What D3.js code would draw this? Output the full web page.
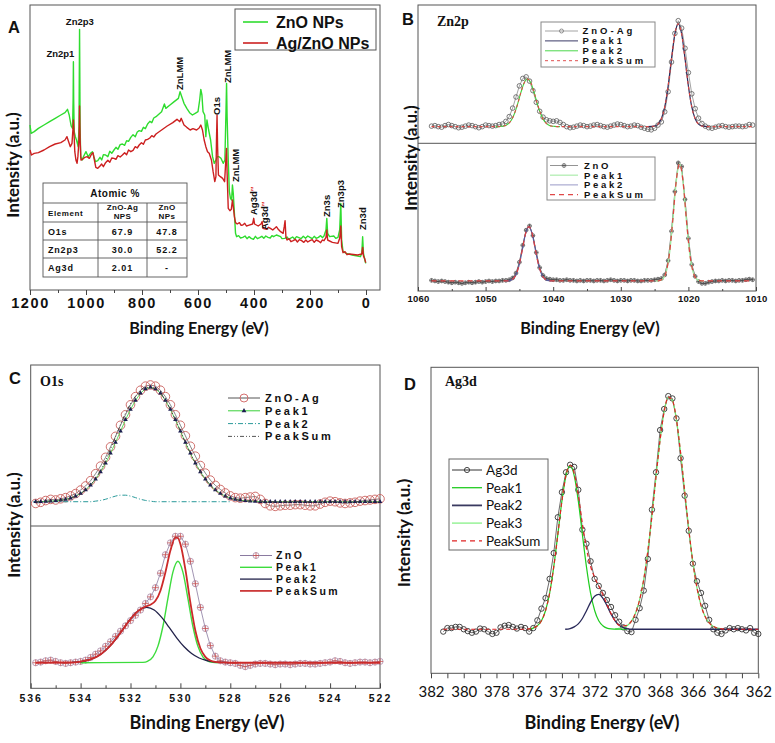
<!DOCTYPE html>
<html>
<head>
<meta charset="utf-8">
<script src="https://cdn.jsdelivr.net/npm/d3@7"></script>
<style>
body { margin: 0; background: #fff; }
svg { display: block; }
</style>
</head>
<body>
<div id="chart"></div>
<script>
// ---------------- data ----------------

// A: survey spectra, [binding energy, intensity]
var surveyZnO = [
  [1200,49.5],[1196,47],[1185,47.5],[1170,48.5],[1150,49.5],[1130,50.5],[1110,51.5],[1090,52.5],[1075,53.2],[1066,54.2],
  [1060,52.5],[1053,49.2],[1048,48.5],[1046,57],[1045,68.5],[1044,57],[1042,47.5],[1038,46],[1034,45],[1028,43],
  [1025,49],[1023,78.2],[1021,49],[1019,40],[1014,39],[1008,40.2],[1000,41.5],[992,40],[984,41],[977,41.5],
  [972,40],[966,38.5],[958,38.8],[950,39.8],[944,39.0],[938,40.6],[930,40.5],[922,40.0],[915,41.6],[908,41.0],
  [900,42],[893,42.8],[886,42.2],[878,43.6],[870,43.8],[862,43.4],[855,44.8],[848,44.6],[840,45.8],[832,46.6],
  [824,46.0],[817,47.4],[810,47.8],[802,47.6],[795,48.8],[788,48.4],[780,49.8],[772,50.6],[765,50.2],[758,51.6],
  [750,52],[730,53.5],[720,55.8],[715,54.5],[700,55.5],[685,56.5],[670,57.5],[664,59.5],[658,58],[650,56],
  [640,54.5],[630,53.2],[620,52.5],[610,53],[600,53.5],[594,57],[590,60.2],[586,58.5],[582,53.5],[576,52.5],
  [572,46],[568,51],[562,48],[555,45],[548,40],[542,38],[536,39],[532,40],[525,40],[518,39.5],
  [510,38],[504,39],[500,54],[498,62],[496,52],[492,39],[488,29.5],[484,27.5],[480,27],[477,31.5],
  [474,29],[470,23],[466,17],[462,16],[455,16.3],[448,15.6],[440,15.8],[432,16.2],[425,15.4],[418,16.0],
  [410,15.5],[402,15.2],[395,16.1],[388,15.4],[380,15.7],[372,16.1],[365,15.5],[358,16.2],[350,15.8],[342,15.6],
  [336,16.3],[330,16],[320,16.5],[305,16],[300,15.4],[290,15.5],[282,15.9],[276,15.2],[270,15.5],[262,15.9],
  [255,15.3],[248,16.0],[240,15.7],[232,15.4],[224,16.1],[216,15.5],[208,16.2],[200,15.8],[192,15.4],[185,16.1],
  [178,15.5],[170,15.8],[162,16.3],[156,15.7],[150,16.2],[143,18],[140,21.5],[137,17],[130,16],[115,16.2],
  [108,15.5],[100,15.8],[94,18],[90,26],[87,15],[82,11.5],[70,11],[50,10.5],[30,10.2],[20,10],
  [15,11],[12,16],[9,11],[4,9],[1,8]
];
var surveyAgZnO = [
  [1200,42],[1195,40.5],[1185,41],[1170,41.2],[1150,42],[1130,43],[1110,43.8],[1090,44.2],[1075,45],[1068,46],
  [1062,44.5],[1056,43],[1050,44],[1046,49],[1045,51],[1043,47.5],[1040,41.5],[1036,39],[1032,38],[1029,40],
  [1025,45],[1023,55.2],[1021,45],[1018,39],[1012,39.2],[1004,39.8],[996,40],[988,39.5],[980,40.8],[975,41.2],
  [970,39],[965,36.8],[958,36.5],[950,37.2],[944,37.8],[938,37.0],[930,38.2],[922,38.9],[915,38.3],[908,39.6],
  [900,39.5],[893,39.2],[886,40.3],[878,39.9],[870,40.5],[862,41.2],[855,40.6],[848,42.0],[840,41.5],[832,41.9],
  [824,43.0],[817,42.6],[810,43.5],[802,44.2],[795,43.7],[788,45.0],[780,45.2],[772,45.6],[765,46.3],[758,45.9],
  [750,46.8],[730,48],[710,49.2],[690,50.2],[675,51.2],[665,50.5],[660,51.5],[650,49.5],[640,48.8],[628,48],
  [618,48.4],[605,48],[596,48.6],[590,49.5],[584,48],[578,45],[572,43],[566,41.5],[560,41],[552,39],
  [546,35.5],[540,32.5],[536,34],[534,45],[532,52.5],[530,43],[527,34.5],[520,34],[512,33.5],[505,32.5],
  [500,40],[498,42.5],[496,35],[492,24.5],[486,23.8],[481,24.2],[477,27],[474,25],[470,22],[466,20.2],
  [460,19.8],[452,20.2],[446,19.4],[440,19.5],[433,20.0],[427,19.2],[420,19.4],[405,19.8],[401,21.5],[398,19.8],
  [385,19.2],[375,19.8],[371,20.5],[368,18.5],[355,18.2],[348,18.8],[340,18.4],[333,18.0],[325,18.6],[320,19.0],
  [315,18.4],[305,17.5],[296,17],[292,19],[289,20.8],[286,16],[282,15],[275,15.4],[268,14.5],[260,14.8],
  [252,15.2],[245,14.4],[238,15.1],[230,14.8],[222,14.3],[215,15.0],[208,14.4],[200,14.8],[192,15.1],[185,14.3],
  [178,15.0],[170,14.7],[162,14.2],[156,15.0],[150,14.8],[143,15.8],[140,18],[137,15],[120,14.3],[100,14],
  [94,15.5],[90,19.2],[87,13],[82,11.2],[75,11.5],[68,10.6],[60,10.8],[30,10.5],[15,10.8],[12,12.8],
  [9,10.2],[4,9.2],[1,8.2]
];
var surveyTicks = [1200, 1000, 800, 600, 400, 200, 0];
var surveyMinor = [1100, 900, 700, 500, 300, 100];
var surveySeries = ["ZnO NPs", "Ag/ZnO NPs"];
var tableHead = [["Element"], ["ZnO-Ag", "NPS"], ["ZnO", "NPs"]];
var tableRows = [["O1s", "67.9", "47.8"], ["Zn2p3", "30.0", "52.2"], ["Ag3d", "2.01", "-"]];

// B: Zn2p, sampled every 0.5 eV from 1058 eV down
var zn2pStart = 1058, zn2pStep = 0.5;
var zn2pAg = [
  0.5, 1.0, 0.0, -0.5, 1.0, 2.0, 1.0, 0.0, -1.0, -0.5,
  0.5, 1.5, 1.0, 0.0, -1.0, 0.0, 1.5, 1.0, 0.5, 1.0,
  2.0, 2.5, 5.0, 9.5, 17.5, 28.0, 38.5, 45.5, 47.0, 43.0,
  34.0, 23.0, 14.5, 9.0, 6.5, 5.5, 5.0, 5.5, 4.0, 2.0,
  0.0, -1.0, -0.5, 0.5, 1.5, 1.0, 0.0, 0.5, 1.5, 2.0,
  1.0, 0.0, -0.5, 0.5, 1.5, 2.5, 2.0, 1.0, 0.0, 0.5,
  1.5, 1.0, -0.5, -1.5, -2.5, -3.0, -1.5, 1.5, 4.5, 14.0,
  33.0, 61.0, 88.0, 100, 93.0, 74.0, 51.0, 31.0, 17.0, 8.0,
  3.0, 0.5, -1.0, -1.5, -0.5, 0.5, 1.0, 0.0, -0.5, 0.0,
  0.5, 0.5, 0.0, 0.5, 2.0, 1.5
];
var zn2pZnO = [
  0.5, 0.0, -0.5, 0.0, -0.5, -1.0, -1.5, -1.0, -1.5, -2.0,
  -1.5, -1.0, -1.5, -1.0, -0.5, -1.0, -0.5, 0.0, -0.5, 0.0,
  0.0, 0.5, 0.5, 1.0, 2.5, 6.5, 15.5, 29.5, 42.0, 45.5,
  37.5, 23.5, 11.0, 4.5, 2.0, 1.5, 1.0, 1.0, 0.5, 0.5,
  1.0, 0.5, 0.5, 0.0, 0.5, 0.0, 0.5, 0.5, 0.0, 0.5,
  0.5, 0.0, 0.5, 1.0, 0.5, 0.0, 0.5, 0.5, 0.0, 0.5,
  0.5, 0.0, 0.0, 0.5, 0.5, 0.5, 1.0, 1.5, 2.0, 5.0,
  16.8, 41.1, 73.9, 97.6, 94.6, 67.4, 35.2, 13.5, 3.8, -0.5,
  -2.0, -2.0, -1.0, -0.5, 0.0, 0.0, 0.5, 0.0, 0.5, 0.5,
  0.0, 0.5, 0.5, 1.0, 1.5, 1.0
];
var zn2pAgPeak1 = [[1026,0],[1025,0.6],[1024.5,2.4],[1024,7.4],[1023.5,18.6],[1023,38.3],[1022.5,64.2],[1022,87.5],[1021.5,97],
  [1021,87.5],[1020.5,64.2],[1020,38.3],[1019.5,18.6],[1019,7.4],[1018.5,2.4],[1018,0.6],[1017,0]];
var zn2pAgPeak2 = [[1048.5,0],[1047.8,0.3],[1047.3,0.6],[1046.8,2.0],[1046.3,5.1],[1045.8,11.2],[1045.3,20.6],[1044.8,31.8],[1044.3,41.3],
  [1043.8,45],[1043.3,41.3],[1042.8,31.8],[1042.3,20.6],[1041.8,11.2],[1041.3,5.1],[1040.8,2.0],[1040.3,0.6],[1039.8,0.3],[1039,0]];
var zn2pAgSum = [[1058,0],[1048.5,0],[1047.8,0.3],[1047.3,0.6],[1046.8,2.0],[1046.3,5.1],[1045.8,11.2],[1045.3,20.6],[1044.8,31.8],[1044.3,41.3],
  [1043.8,45],[1043.3,41.3],[1042.8,31.8],[1042.3,20.6],[1041.8,11.2],[1041.3,5.1],[1040.8,2.0],[1040.3,0.6],[1039.8,0.3],[1039,0],
  [1026,0],[1025,0.6],[1024.5,2.4],[1024,7.4],[1023.5,18.6],[1023,38.3],[1022.5,64.2],[1022,87.5],[1021.5,97],
  [1021,87.5],[1020.5,64.2],[1020,38.3],[1019.5,18.6],[1019,7.4],[1018.5,2.4],[1018,0.6],[1017,0],[1010.5,0]];
var zn2pZnOPeak1 = [[1024.8,0],[1024.3,0.3],[1023.8,1.7],[1023.3,7.3],[1022.8,22.7],[1022.3,50.8],[1021.8,82.6],[1021.3,97],
  [1020.8,82.6],[1020.3,50.8],[1019.8,22.7],[1019.3,7.3],[1018.8,1.7],[1018.3,0.3],[1017.8,0]];
var zn2pZnOPeak2 = [[1047.1,0],[1046.6,0.2],[1046.1,1.1],[1045.6,4.2],[1045.1,11.9],[1044.6,24.9],[1044.1,38.8],[1043.6,45],
  [1043.1,38.8],[1042.6,24.9],[1042.1,11.9],[1041.6,4.2],[1041.1,1.1],[1040.6,0.2],[1040.1,0]];
var zn2pZnOSum = [[1058,0],[1047.1,0],[1046.6,0.2],[1046.1,1.1],[1045.6,4.2],[1045.1,11.9],[1044.6,24.9],[1044.1,38.8],[1043.6,45],
  [1043.1,38.8],[1042.6,24.9],[1042.1,11.9],[1041.6,4.2],[1041.1,1.1],[1040.6,0.2],[1040.1,0],
  [1024.8,0],[1024.3,0.3],[1023.8,1.7],[1023.3,7.3],[1022.8,22.7],[1022.3,50.8],[1021.8,82.6],[1021.3,97],
  [1020.8,82.6],[1020.3,50.8],[1019.8,22.7],[1019.3,7.3],[1018.8,1.7],[1018.3,0.3],[1017.8,0],[1010.5,0]];
var zn2pTicks = [1060, 1050, 1040, 1030, 1020, 1010];
var zn2pMinor = [1055, 1045, 1035, 1025, 1015];
var zn2pAgLegend = ["ZnO-Ag", "Peak1", "Peak2", "PeakSum"];
var zn2pZnOLegend = ["ZnO", "Peak1", "Peak2", "PeakSum"];

// C: O1s, sampled every 0.2 eV from 535.8 eV down
var o1sStart = 535.8, o1sStep = 0.2;
var o1sAg = [
  -1.5, -0.5, 1.0, 2.0, 1.5, 2.5, 3.5, 5.0, 7.0, 10.0,
  13.5, 18.0, 24.0, 30.5, 38.0, 47.0, 56.0, 65.5, 74.5, 83.0,
  90.0, 95.5, 99.0, 100, 99.0, 95.5, 90.0, 83.0, 74.5, 65.5,
  56.5, 47.5, 39.0, 31.0, 24.5, 18.5, 14.0, 10.5, 7.5, 5.0,
  3.5, 3.0, 3.5, 4.0, 4.5, 2.0, -1.5, -3.5, -4.0, -3.5,
  -3.0, -3.0, -2.5, -2.5, -3.0, -3.5, -3.5, -2.0, -0.5, 0.5,
  0.0, -1.0, -1.5, -1.0, -0.5, 0.5, 1.0, 1.5, 2.0, 2.5
];
var o1sAgPeak1 = [
  0, 0.1, 0.3, 0.5, 0.8, 1.3, 2.0, 3.1, 4.8, 7.0,
  10.1, 14.2, 19.3, 25.6, 33.0, 41.5, 50.8, 60.4, 70.2, 79.0,
  86.8, 92.9, 96.7, 98.0, 96.7, 92.9, 86.8, 79.0, 70.2, 60.4,
  50.8, 41.5, 33.0, 25.6, 19.3, 14.2, 10.1, 7.0, 4.8, 3.1,
  2.0, 1.3, 0.8, 0.5, 0.3, 0.1, 0, 0, 0, 0,
  0, 0, 0, 0, 0, 0, 0, 0, 0, 0,
  0, 0, 0, 0, 0, 0, 0, 0, 0, 0
];
var o1sAgPeak2 = [[535.9,0],[533.6,0],[533.4,0.5],[533.2,1.1],[533.0,2.1],[532.8,3.5],[532.6,4.8],[532.4,5.6],[532.2,5.6],
  [532.0,4.8],[531.8,3.5],[531.6,2.1],[531.4,1.1],[531.2,0.5],[531.0,0],[528.0,0]];
var o1sAgSum = [[535.8,0],[535.4,0.3],[535.0,0.8],[534.6,2.0],[534.2,4.8],[533.8,10.1],[533.4,19.8],[533.0,35.1],[532.6,55.6],
  [532.2,75.8],[531.8,90.3],[531.4,97.8],[531.0,96.9],[530.6,86.8],[530.2,70.2],[529.8,50.8],[529.4,33.0],[529.0,19.3],
  [528.6,10.1],[528.2,4.8],[527.8,2.0],[527.4,0.8],[527.0,0.3],[526.6,0],[522.0,0]];
var o1sZnO = [
  0.0, 0.5, 1.5, 2.0, 1.0, 0.0, -0.5, 0.0, 0.5, 1.0,
  2.0, 4.0, 6.5, 9.0, 12.5, 16.0, 20.0, 24.0, 28.0, 32.0,
  36.0, 40.0, 45.0, 50.0, 57.0, 68.0, 82.0, 91.0, 96.0, 96.0,
  90.0, 77.0, 60.0, 42.0, 26.0, 13.0, 5.0, 1.5, 0.5, 0.0,
  -0.5, -2.0, -3.0, -2.0, -1.0, -0.5, -0.5, -1.0, -1.5, -1.0,
  -1.0, -1.5, -1.0, -0.5, -0.5, -1.0, -1.0, -0.5, 0.0, 0.5,
  1.5, 1.0, 0.0, -0.5, 0.0, 0.5, 0.5, 0.0, 0.5, 1.0
];
var o1sZnOPeak1 = [[534.0,0],[531.5,0.3],[531.3,1.3],[531.1,4.5],[530.9,12.6],[530.7,27.7],[530.5,48.9],[530.3,68.8],[530.1,77],
  [529.9,68.8],[529.7,48.9],[529.5,27.7],[529.3,12.6],[529.1,4.5],[528.9,1.3],[528.7,0.3],[528.5,0]];
var o1sZnOPeak2 = [[534.35,0.3],[534.05,0.7],[533.75,1.7],[533.45,3.6],[533.15,7.0],[532.85,12.1],[532.55,18.9],[532.25,26.8],
  [531.95,34.4],[531.65,40.0],[531.35,42],[531.05,40.0],[530.75,34.4],[530.45,26.8],[530.15,18.9],[529.85,12.1],
  [529.55,7.0],[529.25,3.6],[528.95,1.7],[528.65,0.7],[528.35,0.3],[528.05,0]];
var o1sZnOSum = [[535.8,0],[534.4,0.2],[534.0,0.9],[533.6,2.5],[533.2,6.3],[532.8,13.1],[532.4,22.8],[532.0,33.2],[531.8,37.5],
  [531.6,40.6],[531.4,42.6],[531.2,44.0],[531.0,47.0],[530.8,54.7],[530.6,68.7],[530.4,85.2],[530.2,95.0],[530.1,94.7],
  [530.0,90.1],[529.8,70.8],[529.6,45.6],[529.4,24.3],[529.2,11.0],[529.0,4.5],[528.8,1.7],[528.6,0.6],[528.4,0.3],
  [528.0,0],[522.0,0]];
var o1sTicks = [536, 534, 532, 530, 528, 526, 524, 522];
var o1sMinor = [535, 533, 531, 529, 527, 525, 523];
var o1sAgLegend = ["ZnO-Ag", "Peak1", "Peak2", "PeakSum"];
var o1sZnOLegend = ["ZnO", "Peak1", "Peak2", "PeakSum"];

// D: Ag3d, sampled every 0.25 eV from 381.25 eV down
var ag3dStart = 381.25, ag3dStep = 0.25;
var ag3d = [
  -1.0, 0.5, 0.5, 1.0, 1.0, 0.0, -0.8, -1.5,
  -1.0, 0.3, 0.0, -1.0, -2.0, -1.5, 0.8, 1.5,
  1.8, 1.0, 0.3, 1.0, 0.5, -1.0, 0.5, 3.8,
  8.8, 13.3, 21.5, 32.5, 47.8, 58.5, 67.0, 70.2,
  69.3, 59.5, 42.5, 36.5, 29.0, 21.5, 18.5, 15.5,
  12.5, 9.5, 6.0, 3.2, 0.8, -0.8, -1.2, 4.0,
  9.0, 16.5, 30.0, 51.0, 67.0, 85.0, 94.0, 99.5,
  98.5, 90.0, 73.0, 57.0, 42.0, 28.0, 20.5, 15.5,
  10.0, 4.0, 0.0, -1.5, -2.0, -0.5, 0.5, 0.0,
  0.5, 0.0, -0.5, 0.5, -1.5, -2.0
];
var ag3dPeak1 = [[376.0,0],[375.75,0.5],[375.5,1.5],[375.25,3.6],[375.0,8.0],[374.75,15.4],[374.5,26.6],[374.25,40.5],[374.0,54.8],
  [373.75,65.6],[373.5,69.7],[373.25,65.6],[373.0,54.8],[372.75,40.5],[372.5,26.6],[372.25,15.4],[372.0,8.0],[371.75,3.6],
  [371.5,1.5],[371.25,0.5],[371.0,0.2],[370.0,0]];
var ag3dPeak2 = [[373.8,0],[373.5,0.3],[373.25,1.0],[373.0,2.3],[372.75,4.6],[372.5,7.9],[372.25,11.5],[372.0,14.1],[371.75,14.9],
  [371.5,13.3],[371.25,10.1],[371.0,6.5],[370.75,3.6],[370.5,1.7],[370.25,0.7],[370.0,0.2],[369.75,0],[362.0,0]];
var ag3dPeak3 = [[370.75,0.2],[370.5,0.4],[370.25,0.7],[370.0,1.6],[369.75,3.5],[369.5,6.9],[369.25,12.6],[369.0,21.3],[368.75,33.4],
  [368.5,48.4],[368.25,65.1],[368.0,80.8],[367.75,93.0],[367.5,99.1],[367.25,97.7],[367.0,89.3],[366.75,75.4],[366.5,59.0],
  [366.25,42.8],[366.0,28.7],[365.75,17.8],[365.5,10.2],[365.25,5.4],[365.0,2.7],[364.75,1.2],[364.5,0.5],[364.25,0.2]];
var ag3dSum = [[381.25,0],[376.25,0],[376.0,0.2],[375.75,0.5],[375.5,1.5],[375.25,3.6],[375.0,8.0],[374.75,15.4],[374.5,26.6],
  [374.25,40.5],[374.0,54.8],[373.75,65.7],[373.5,70.0],[373.25,66.6],[373.0,57.1],[372.75,45.1],[372.5,34.5],[372.25,26.9],
  [372.0,22.1],[371.75,18.5],[371.5,14.8],[371.25,10.6],[371.0,6.7],[370.75,3.6],[370.5,1.7],[370.25,1.4],[370.0,1.8],
  [369.75,3.5],[369.5,6.9],[369.25,12.6],[369.0,21.3],[368.75,33.4],[368.5,48.4],[368.25,65.1],[368.0,80.8],[367.75,93.0],
  [367.5,99.1],[367.25,97.7],[367.0,89.3],[366.75,75.4],[366.5,59.0],[366.25,42.8],[366.0,28.7],[365.75,17.8],[365.5,10.2],
  [365.25,5.4],[365.0,2.7],[364.75,1.2],[364.5,0.5],[364.25,0.2],[364.0,0],[362.0,0]];
var ag3dTicks = [382, 380, 378, 376, 374, 372, 370, 368, 366, 364, 362];
var ag3dMinor = [381, 379, 377, 375, 373, 371, 369, 367, 365, 363];
var ag3dLegend = ["Ag3d", "Peak1", "Peak2", "Peak3", "PeakSum"];

// ---------------- drawing ----------------
var sans = "'Liberation Sans', Arial, sans-serif";
var serif = "'Liberation Serif', 'Times New Roman', serif";
var calib = "Lato, 'Open Sans', sans-serif";

var svg = d3.select("#chart")
    .append("svg")
    .attr("width", 775)
    .attr("height", 743);

svg.append("rect").attr("width", 775).attr("height", 743).attr("fill", "#fff");

function frame(x0, y0, x1, y1) {
  svg.append("rect")
      .attr("x", x0).attr("y", y0)
      .attr("width", x1 - x0).attr("height", y1 - y0)
      .attr("fill", "none")
      .attr("stroke", "#555")
      .attr("stroke-width", 1);
}

function txt(s, x, y, size, opt) {
  opt = opt || {};
  return svg.append("text")
      .attr("x", x).attr("y", y)
      .attr("text-anchor", opt.anchor || "start")
      .style("font-family", opt.family || sans)
      .style("font-size", size + "px")
      .style("font-weight", opt.weight || "bold")
      .style("letter-spacing", (opt.ls || 0) + "px")
      .attr("fill", opt.fill || "#111")
      .text(s);
}

function vtxt(s, x, y, size, opt) {
  opt = opt || {};
  return svg.append("text")
      .attr("transform", "translate(" + x + "," + y + ") rotate(-90)")
      .attr("text-anchor", opt.anchor || "start")
      .style("font-family", opt.family || sans)
      .style("font-size", size + "px")
      .style("font-weight", opt.weight || "bold")
      .attr("fill", "#111")
      .text(s);
}

function bottomAxis(x, y0, major, minor, o) {
  var gm = svg.append("g")
      .attr("transform", "translate(0," + y0 + ")")
      .call(d3.axisBottom(x).tickValues(minor).tickSize(o.minor).tickFormat(""));
  gm.select(".domain").remove();
  gm.selectAll("line").attr("stroke", "#444");
  var g = svg.append("g")
      .attr("transform", "translate(0," + y0 + ")")
      .call(d3.axisBottom(x).tickValues(major).tickSize(o.major).tickPadding(o.pad).tickFormat(d3.format("d")));
  g.select(".domain").remove();
  g.selectAll("line").attr("stroke", "#444");
  g.selectAll("text")
      .attr("fill", "#111")
      .style("font-family", o.family)
      .style("font-size", o.fs + "px")
      .style("font-weight", o.weight)
      .style("letter-spacing", o.ls + "px");
}

// line through evenly sampled values
function gridPath(vals, start, step, x, y) {
  return d3.line()
      .x(function(d, i) { return x(start - i * step); })
      .y(function(d) { return y(d); })(vals);
}
// smooth line through [energy, value] pairs
function pairPath(pts, x, y) {
  return d3.line()
      .x(function(d) { return x(d[0]); })
      .y(function(d) { return y(d[1]); })
      .curve(d3.curveMonotoneX)(pts);
}
function stroke(d, color, w, dash) {
  return svg.append("path")
      .attr("d", d)
      .attr("fill", "none")
      .attr("stroke", color)
      .attr("stroke-width", w)
      .attr("stroke-dasharray", dash || null)
      .attr("stroke-linejoin", "round");
}

// markers
function ringMark(g, r, color, w) {
  g.append("circle").attr("r", r).attr("fill", "none").attr("stroke", color).attr("stroke-width", w);
}
function crossMark(g, r, ring, cross) {
  g.append("circle").attr("r", r).attr("fill", "none").attr("stroke", ring).attr("stroke-width", 0.8);
  g.append("path").attr("d", "M" + (-r) + ",0H" + r + "M0," + (-r) + "V" + r)
      .attr("stroke", cross).attr("stroke-width", 0.8);
}
function markers(vals, start, step, x, y, draw) {
  svg.append("g").selectAll("g")
      .data(vals)
      .join("g")
      .attr("transform", function(d, i) { return "translate(" + x(start - i * step) + "," + y(d) + ")"; })
      .each(function() { draw(d3.select(this)); });
}

function legend(x0, y0, dy, len, gap, labels, styles, font) {
  labels.forEach(function(lab, i) {
    var st = styles[i], yy = y0 + i * dy;
    svg.append("line")
        .attr("x1", x0).attr("x2", x0 + len)
        .attr("y1", yy).attr("y2", yy)
        .attr("stroke", st.c)
        .attr("stroke-width", st.w || 1)
        .attr("stroke-dasharray", st.dash || null);
    if (st.mark) {
      st.mark(svg.append("g").attr("transform", "translate(" + (x0 + len / 2) + "," + yy + ")"));
    }
    txt(lab, x0 + len + gap, yy + font.dy, font.fs, {family: font.family, weight: font.weight, ls: font.ls});
  });
}

// ================= Panel A =================
var xA = d3.scaleLinear().domain([1200, -50]).range([30, 380]);
var yA = d3.scaleLinear().domain([0, 85.5]).range([290, 5]);

frame(30, 5, 380, 290);
stroke(d3.line().x(function(d) { return xA(d[0]); }).y(function(d) { return yA(d[1]); })(surveyZnO), "#2fdc2f", 1.4);
stroke(d3.line().x(function(d) { return xA(d[0]); }).y(function(d) { return yA(d[1]); })(surveyAgZnO), "#cc2020", 1.4);

bottomAxis(xA, 290, surveyTicks, surveyMinor,
  {major: 5, minor: 3, pad: 2.5, family: sans, fs: 14.5, weight: "bold", ls: 1.6});

// peak annotations
txt("Zn2p1", xA(1045) - 13, 57, 9.5, {anchor: "middle"});
txt("Zn2p3", xA(1022), 25, 9.5, {anchor: "middle"});
vtxt("ZnLMM", xA(664) + 3, 90, 9.5);
vtxt("O1s", xA(532) + 3, 115, 9.5);
vtxt("ZnLMM", xA(498) + 4, 83, 9.5);
vtxt("ZnLMM", xA(476) + 6, 182, 9.5);
vtxt("Ag3d", xA(400) + 3, 215, 9.5).append("tspan").attr("fill", "#d22").text("\u2033");
vtxt("Ag3d", xA(368) + 5, 230, 9.5).append("tspan").attr("fill", "#d22").text("\u2033");
vtxt("Zn3s", xA(140) + 3, 217, 9.5);
vtxt("Zn3p3", xA(90) + 3, 208, 9.5);
vtxt("Zn3d", xA(12) + 3, 230, 9.5);

// legend A
svg.append("rect").attr("x", 235).attr("y", 9).attr("width", 141).attr("height", 41)
    .attr("fill", "#fff").attr("stroke", "#555");
legend(243, 22, 21, 25, 8, surveySeries,
  [{c: "#2fdc2f", w: 1.6}, {c: "#cc2020", w: 1.6}],
  {fs: 16, dy: 5.7, family: sans, weight: "bold", ls: 0});

// atomic % table
var colX = [43, 98, 147, 187], rowY = [183, 203, 222, 240, 258, 277];
svg.append("rect").attr("x", 43).attr("y", 183).attr("width", 144).attr("height", 94)
    .attr("fill", "#fff").attr("stroke", "#555").attr("stroke-width", 0.9);
rowY.slice(1, 5).forEach(function(y) {
  svg.append("line").attr("x1", 43).attr("x2", 187).attr("y1", y).attr("y2", y).attr("stroke", "#555").attr("stroke-width", 0.9);
});
colX.slice(1, 3).forEach(function(x) {
  svg.append("line").attr("x1", x).attr("x2", x).attr("y1", 203).attr("y2", 277).attr("stroke", "#555").attr("stroke-width", 0.9);
});
txt("Atomic %", 115, 197, 10, {anchor: "middle", ls: 0.5});
tableHead.forEach(function(h, j) {
  if (j === 0) { txt(h[0], 48, 216, 8, {ls: 0.6}); return; }
  var cx = (colX[j] + colX[j + 1]) / 2;
  txt(h[0], cx, 210, 8, {anchor: "middle", ls: 0.4});
  txt(h[1], cx, 218.5, 8, {anchor: "middle", ls: 0.4});
});
tableRows.forEach(function(r, i) {
  var yy = rowY[i + 2] + 12.5;
  txt(r[0], 48, yy, 9, {ls: 0.8});
  txt(r[1], (colX[1] + colX[2]) / 2, yy, 9, {anchor: "middle", ls: 1});
  txt(r[2], (colX[2] + colX[3]) / 2, yy, 9, {anchor: "middle", ls: 1});
});

txt("A", 8, 33, 16.5, {family: sans});
vtxt("Intensity (a.u.)", 18.5, 165, 17, {anchor: "middle", family: calib});
txt("Binding Energy (eV)", 199, 334, 16.2, {anchor: "middle", family: calib});

// ================= Panel B =================
var xB = d3.scaleLinear().domain([1060, 1010]).range([418, 756]);
var yB1 = d3.scaleLinear().domain([-15.7, 114.8]).range([143.3, 5]);
var yB2 = d3.scaleLinear().domain([-8.3, 113.8]).range([291, 143.3]);

frame(418, 5, 756, 291);
svg.append("line").attr("x1", 418).attr("x2", 756).attr("y1", 143.3).attr("y2", 143.3).attr("stroke", "#555");

// upper: ZnO-Ag
stroke(gridPath(zn2pAg, zn2pStart, zn2pStep, xB, yB1), "#8a8a8a", 0.8);
markers(zn2pAg, zn2pStart, zn2pStep, xB, yB1, function(g) { ringMark(g, 2.3, "#5a5a5a", 0.8); });
stroke(pairPath(zn2pAgPeak2, xB, yB1), "#3ed43e", 1.1);
stroke(pairPath(zn2pAgPeak1, xB, yB1), "#2c2c5c", 1.2);
stroke(pairPath(zn2pAgSum, xB, yB1), "#e04a44", 1.1, "3,3");

// lower: ZnO
stroke(gridPath(zn2pZnO, zn2pStart, zn2pStep, xB, yB2), "#555", 0.9);
markers(zn2pZnO, zn2pStart, zn2pStep, xB, yB2, function(g) { crossMark(g, 1.9, "#666", "#444"); });
stroke(pairPath(zn2pZnOPeak1, xB, yB2), "#9fe89f", 1.4);
stroke(pairPath(zn2pZnOPeak2, xB, yB2), "#5a5a9a", 1.2);
stroke(pairPath(zn2pZnOSum, xB, yB2), "#e04040", 1.2, "5,4");

bottomAxis(xB, 291, zn2pTicks, zn2pMinor,
  {major: -4, minor: -2, pad: 4.3, family: sans, fs: 9.5, weight: "bold", ls: 0.2});

svg.append("rect").attr("x", 541).attr("y", 22).attr("width", 114).attr("height", 45)
    .attr("fill", "#fff").attr("stroke", "#888");
legend(545, 31, 9.9, 33, 4.5, zn2pAgLegend,
  [{c: "#999", w: 0.9, mark: function(g) { ringMark(g, 2, "#777", 0.8); }},
   {c: "#3a3a66", w: 1}, {c: "#4cd84c", w: 1}, {c: "#e05050", w: 1, dash: "3,3"}],
  {fs: 9.5, dy: 3.4, family: sans, weight: "bold", ls: 3});

svg.append("rect").attr("x", 547).attr("y", 157).attr("width", 108).attr("height", 43)
    .attr("fill", "#fff").attr("stroke", "#888");
legend(550, 165.5, 9.7, 28, 6, zn2pZnOLegend,
  [{c: "#888", w: 0.9, mark: function(g) { crossMark(g, 2, "#777", "#555"); }},
   {c: "#b8efb8", w: 1.4}, {c: "#9a9ac8", w: 1}, {c: "#e04848", w: 1.2, dash: "5,4"}],
  {fs: 9.5, dy: 3.4, family: sans, weight: "bold", ls: 2.7});

txt("B", 402, 25, 16.5, {family: sans});
txt("Zn2p", 437, 26, 14, {family: serif});
vtxt("Intensity (a.u.)", 417, 158, 17, {anchor: "middle", family: calib});
txt("Binding Energy (eV)", 590, 334, 16.2, {anchor: "middle", family: calib});

// ================= Panel C =================
var xC = d3.scaleLinear().domain([536, 522]).range([30.7, 380]);
var yC1 = d3.scaleLinear().domain([-20.8, 117.1]).range([526, 365]);
var yC2 = d3.scaleLinear().domain([-19.4, 103.8]).range([688.3, 526]);

frame(30.7, 365, 380, 688.3);
svg.append("line").attr("x1", 30.7).attr("x2", 380).attr("y1", 526).attr("y2", 526).attr("stroke", "#555");

// upper: ZnO-Ag
stroke(gridPath(o1sAg, o1sStart, o1sStep, xC, yC1), "#666", 0.8);
markers(o1sAg, o1sStart, o1sStep, xC, yC1, function(g) { ringMark(g, 4.3, "#c9605c", 0.9); });
stroke(pairPath(o1sAgPeak2, xC, yC1), "#2a9a9a", 1, "5,2,1,2");
stroke(gridPath(o1sAgPeak1, o1sStart, o1sStep, xC, yC1), "#3ad03a", 0.8);
svg.append("g").selectAll("path")
    .data(o1sAgPeak1)
    .join("path")
    .attr("transform", function(d, i) { return "translate(" + xC(o1sStart - i * o1sStep) + "," + yC1(d) + ")"; })
    .attr("d", d3.symbol(d3.symbolTriangle, 9))
    .attr("fill", "#1c1c50");
stroke(pairPath(o1sAgSum, xC, yC1), "#444", 1, "4,2,1,2,1,2");

// lower: ZnO
stroke(gridPath(o1sZnO, o1sStart, o1sStep, xC, yC2), "#8a7aa0", 0.8);
markers(o1sZnO, o1sStart, o1sStep, xC, yC2, function(g) { crossMark(g, 3.1, "#a98aa8", "#c85050"); });
stroke(pairPath(o1sZnOPeak1, xC, yC2), "#3ddc3d", 1.4);
stroke(pairPath(o1sZnOPeak2, xC, yC2), "#22224a", 1.3);
stroke(pairPath(o1sZnOSum, xC, yC2), "#cc2a2a", 1.8);

bottomAxis(xC, 688.3, o1sTicks, o1sMinor,
  {major: -5, minor: -3, pad: 6, family: sans, fs: 10.5, weight: "bold", ls: 2});

legend(228, 398, 12.8, 32, 5, o1sAgLegend,
  [{c: "#555", w: 1, mark: function(g) { ringMark(g, 4, "#d06060", 0.9); }},
   {c: "#3ad03a", w: 1, mark: function(g) { g.append("path").attr("d", d3.symbol(d3.symbolTriangle, 10)).attr("fill", "#1c1c50"); }},
   {c: "#2a9a9a", w: 1, dash: "5,2,1,2"}, {c: "#555", w: 1, dash: "4,2,1,2,1,2"}],
  {fs: 11, dy: 3.9, family: sans, weight: "bold", ls: 2.7});

legend(240, 555.5, 11.8, 32, 4, o1sZnOLegend,
  [{c: "#8a7aa0", w: 1, mark: function(g) { crossMark(g, 3, "#a98aa8", "#c85050"); }},
   {c: "#3ddc3d", w: 1.4}, {c: "#22224a", w: 1.3}, {c: "#cc3a3a", w: 1.8}],
  {fs: 10.5, dy: 3.8, family: sans, weight: "bold", ls: 2.4});

txt("C", 9, 384, 16.5, {family: sans});
txt("O1s", 40, 386, 14, {family: serif});
vtxt("Intensity (a.u.)", 19.5, 525, 17, {anchor: "middle", family: calib});
txt("Binding Energy (eV)", 207, 729, 18, {anchor: "middle", family: calib});

// ================= Panel D =================
var xD = d3.scaleLinear().domain([382, 362]).range([431, 758.3]);
var yD = d3.scaleLinear().domain([-18.8, 111.8]).range([673.3, 367.3]);

frame(431, 367.3, 758.3, 673.3);
stroke(gridPath(ag3d, ag3dStart, ag3dStep, xD, yD), "#444", 0.8);
markers(ag3d, ag3dStart, ag3dStep, xD, yD, function(g) { ringMark(g, 2.7, "#333", 0.9); });
stroke(pairPath(ag3dPeak3, xD, yD), "#6fe86f", 1.2);
stroke(pairPath(ag3dPeak1, xD, yD), "#1fcc1f", 1.2);
stroke(pairPath(ag3dPeak2, xD, yD), "#2a2a5a", 1.3);
stroke(pairPath(ag3dSum, xD, yD), "#e02424", 1.2, "4,3");

bottomAxis(xD, 673.3, ag3dTicks, ag3dMinor,
  {major: 5, minor: 5, pad: 8, family: calib, fs: 15, weight: "normal", ls: 0});

svg.append("rect").attr("x", 449).attr("y", 459).attr("width", 99).attr("height", 91)
    .attr("fill", "#fff").attr("stroke", "#666");
legend(452, 470, 17.7, 30, 4, ag3dLegend,
  [{c: "#333", w: 1, mark: function(g) { ringMark(g, 2.6, "#333", 0.9); }},
   {c: "#22cc22", w: 1.3}, {c: "#3a3a60", w: 1.8}, {c: "#88f088", w: 1.3}, {c: "#e02424", w: 1.3, dash: "5,4"}],
  {fs: 13.5, dy: 4.8, family: calib, weight: "normal", ls: 0});

txt("D", 404, 390, 16.5, {family: sans});
txt("Ag3d", 445, 386, 14, {family: serif});
vtxt("Intensity (a.u.)", 410, 533, 17.5, {anchor: "middle", family: calib});
txt("Binding Energy (eV)", 602, 729, 18, {anchor: "middle", family: calib});
</script>
</body>
</html>
